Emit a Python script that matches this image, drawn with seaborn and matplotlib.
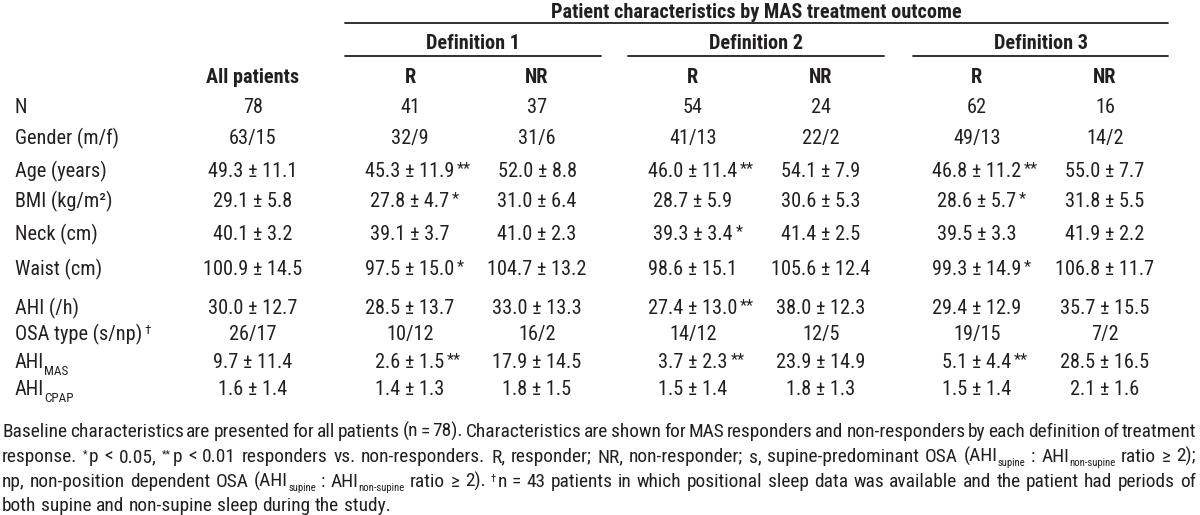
import re
import matplotlib
matplotlib.use('Agg')
import matplotlib.pyplot as plt
import seaborn as sns
from matplotlib import font_manager as fm

# table content
row_labels = ['N', 'Gender (m/f)', 'Age (years)', 'BMI (kg/m²)', 'Neck (cm)', 'Waist (cm)',
              'AHI (/h)', 'OSA type (s/np)', 'AHI', 'AHI']
label_sub = ['', '', '', '', '', '', '', '', 'MAS', 'CPAP']
label_sup = ['', '', '', '', '', '', '', '†', '', '']

all_patients = ['78', '63/15', '49.3 ± 11.1', '29.1 ± 5.8', '40.1 ± 3.2', '100.9 ± 14.5',
                '30.0 ± 12.7', '26/17', '9.7 ± 11.4', '1.6 ± 1.4']
def1_r = ['41', '32/9', '45.3 ± 11.9', '27.8 ± 4.7', '39.1 ± 3.7', '97.5 ± 15.0',
          '28.5 ± 13.7', '10/12', '2.6 ± 1.5', '1.4 ± 1.3']
def1_r_sig = ['', '', '**', '*', '', '*', '', '', '**', '']
def1_nr = ['37', '31/6', '52.0 ± 8.8', '31.0 ± 6.4', '41.0 ± 2.3', '104.7 ± 13.2',
           '33.0 ± 13.3', '16/2', '17.9 ± 14.5', '1.8 ± 1.5']
def2_r = ['54', '41/13', '46.0 ± 11.4', '28.7 ± 5.9', '39.3 ± 3.4', '98.6 ± 15.1',
          '27.4 ± 13.0', '14/12', '3.7 ± 2.3', '1.5 ± 1.4']
def2_r_sig = ['', '', '**', '', '*', '', '**', '', '**', '']
def2_nr = ['24', '22/2', '54.1 ± 7.9', '30.6 ± 5.3', '41.4 ± 2.5', '105.6 ± 12.4',
           '38.0 ± 12.3', '12/5', '23.9 ± 14.9', '1.8 ± 1.3']
def3_r = ['62', '49/13', '46.8 ± 11.2', '28.6 ± 5.7', '39.5 ± 3.3', '99.3 ± 14.9',
          '29.4 ± 12.9', '19/15', '5.1 ± 4.4', '1.5 ± 1.4']
def3_r_sig = ['', '', '**', '*', '', '*', '', '', '**', '']
def3_nr = ['16', '14/2', '55.0 ± 7.7', '31.8 ± 5.5', '41.9 ± 2.2', '106.8 ± 11.7',
           '35.7 ± 15.5', '7/2', '28.5 ± 16.5', '2.1 ± 1.6']

title = 'Patient characteristics by MAS treatment outcome'
definitions = ['Definition 1', 'Definition 2', 'Definition 3']
col_heads = ['All patients', 'R', 'NR', 'R', 'NR', 'R', 'NR']

footnote = [
    "Baseline characteristics are presented for all patients (n = 78). Characteristics are shown for MAS responders and non-responders by each definition of treatment",
    "response. ^{*}p < 0.05, ^{**}p < 0.01 responders vs. non-responders. R, responder; NR, non-responder; s, supine-predominant OSA (AHI_{supine} : AHI_{non-supine} ratio ≥ 2);",
    "np, non-position dependent OSA (AHI_{supine} : AHI_{non-supine} ratio ≥ 2). ^{†}n = 43 patients in which positional sleep data was available and the patient had periods of",
    "both supine and non-supine sleep during the study.",
]

sns.set_theme(style='white')

# pick a narrow sans if one is installed, else plain Liberation Sans
NARROW = ('condensed', 'semi-condensed', 'extra-condensed', 'ultra-condensed')
FAMILY, STRETCH = 'Liberation Sans', 'normal'
for fam in ['Liberation Sans Narrow', 'Roboto Condensed', 'Open Sans Condensed',
            'Noto Sans', 'Open Sans', 'Roboto', 'DejaVu Sans']:
    hits = [f for f in fm.fontManager.ttflist
            if f.name == fam and (fam.endswith(('Narrow', 'Condensed')) or str(f.stretch) in NARROW)]
    if hits:
        FAMILY = fam
        STRETCH = 'normal' if fam.endswith(('Narrow', 'Condensed')) else str(hits[0].stretch)
        break

plt.rcParams['font.family'] = [FAMILY, 'DejaVu Sans']
plt.rcParams['font.stretch'] = STRETCH
INK = '#231f20'

fig = plt.figure(figsize=(12, 5.15), dpi=100)
ax = fig.add_axes([0, 0, 1, 1])
ax.set_xlim(0, 1200)
ax.set_ylim(515, 0)
ax.axis('off')
renderer = fig.canvas.get_renderer()


def width(t):
    return t.get_window_extent(renderer).width


def measure(s, size, weight='normal'):
    t = ax.text(0, 600, s, fontsize=size, fontweight=weight)
    w = width(t)
    t.remove()
    return w


# size the text so that a label is as wide as in the reference
FS = 10 * 103 / measure('Gender (m/f)', 10)


def parse(token):
    out = []
    for part in re.split(r'(_\{[^}]*\}|\^\{[^}]*\})', token):
        if not part:
            continue
        if part.startswith('_{'):
            out.append((part[2:-1], 'sub'))
        elif part.startswith('^{'):
            out.append((part[2:-1], 'sup'))
        else:
            out.append((part, 'n'))
    return out


def draw_segs(x, y, segs, size, sub_scale=0.6, sub_dy=5, sup_dy=-5):
    arts, cx = [], x
    for text, kind in segs:
        fs = size if kind == 'n' else size * sub_scale
        dy = {'n': 0, 'sub': sub_dy, 'sup': sup_dy}[kind]
        t = ax.text(cx, y + dy, text, fontsize=fs, color=INK, va='baseline', ha='left')
        cx += width(t) + (1.5 if kind == 'sup' else 0)
        arts.append(t)
    return arts, cx - x


# header
ax.text(756, 18, title, fontsize=FS, fontweight='bold', color=INK, ha='center', va='baseline')
ax.plot([345, 1168], [23, 23], color=INK, lw=1.3)
for name, (x0, x1) in zip(definitions, [(345, 601), (628, 884), (913, 1168)]):
    ax.text((x0 + x1) / 2, 49, name, fontsize=FS, fontweight='bold', color=INK,
            ha='center', va='baseline')
    ax.plot([x0, x1], [56, 56], color=INK, lw=1.3)

col_x = [253, 410, 537, 693, 821, 977, 1105]
for x, h in zip(col_x, col_heads):
    ax.text(x, 83, h, fontsize=FS, fontweight='bold', color=INK, ha='center', va='baseline')

row_y = [113, 144, 177, 207, 240, 275, 314, 340, 368, 395]

columns = [all_patients, def1_r, def1_nr, def2_r, def2_nr, def3_r, def3_nr]
sigs = [None, def1_r_sig, None, def2_r_sig, None, def3_r_sig, None]

for i, y in enumerate(row_y):
    segs = [(row_labels[i], 'n')]
    if label_sub[i]:
        segs.append((label_sub[i], 'sub'))
    if label_sup[i]:
        segs.append((' ' + label_sup[i], 'sup'))
    draw_segs(15, y, segs, FS, sub_scale=0.65, sub_dy=7, sup_dy=-6)
    for x, col, sig in zip(col_x, columns, sigs):
        t = ax.text(x, y, col[i], fontsize=FS, color=INK, ha='center', va='baseline')
        if sig and sig[i]:
            w = width(t)
            ax.text(x + w / 2 + 2.5, y - 4, sig[i], fontsize=FS * 0.8, color=INK,
                    ha='left', va='baseline')

# justified footnote
foot_y = [437, 462, 487, 511]
FN = FS
while FN > 8:
    space_w = measure('a a', FN) - measure('aa', FN)
    widest = max(sum(measure(''.join(s for s, _ in parse(w)), FN) for w in line.split(' '))
                 + space_w * 0.5 * (len(line.split(' ')) - 1) for line in footnote)
    if widest <= 1196:
        break
    FN -= 0.1

for k, (line, y) in enumerate(zip(footnote, foot_y)):
    words = line.split(' ')
    placed = [draw_segs(0, y, parse(w), FN, sub_scale=0.55, sub_dy=4, sup_dy=-5) for w in words]
    total = sum(wd for _, wd in placed)
    gap = (1196 - 2 - total) / (len(placed) - 1) if k < len(footnote) - 1 else space_w
    cx = 2
    for arts, wd in placed:
        for a in arts:
            a.set_x(a.get_position()[0] + cx)
        cx += wd + gap

fig.savefig('out.png', dpi=100)
